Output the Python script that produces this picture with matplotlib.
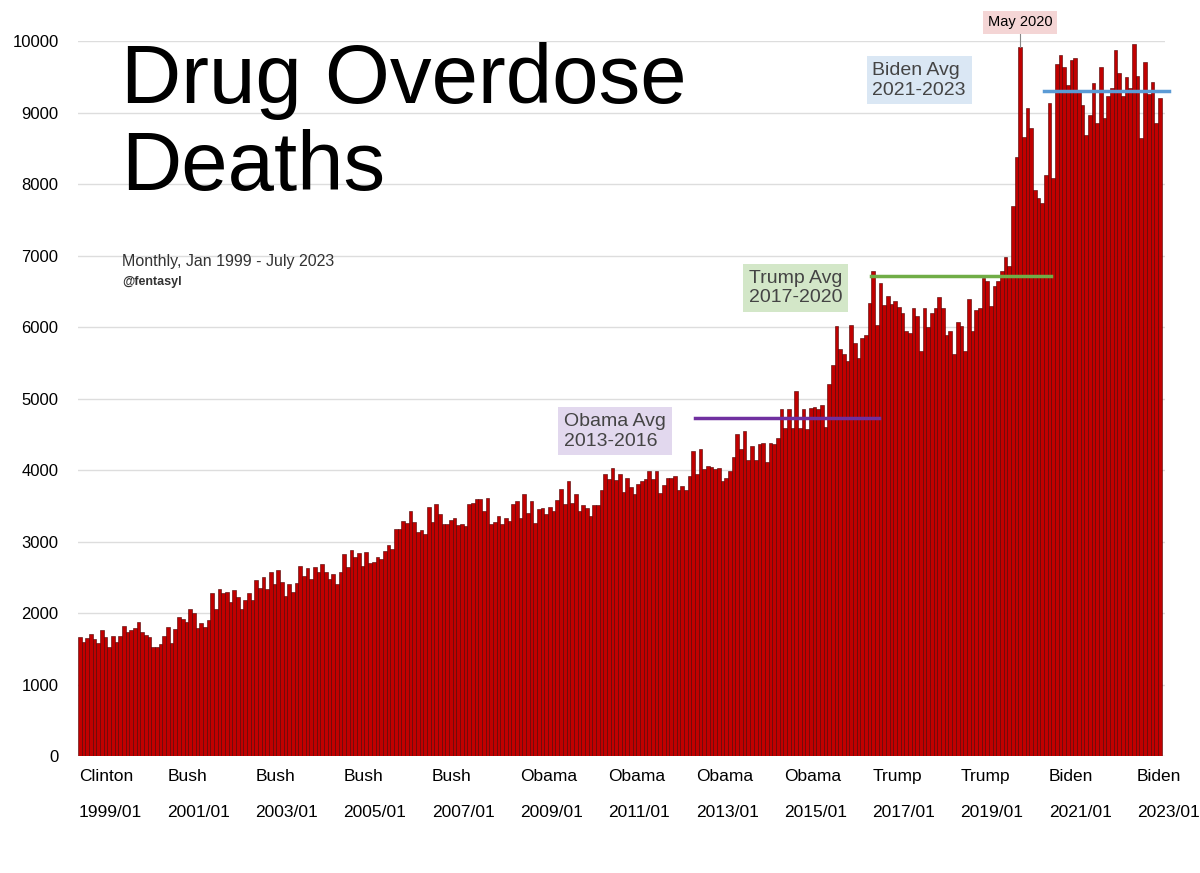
import matplotlib
matplotlib.use("Agg")
import matplotlib.pyplot as plt
import numpy as np

plt.rcParams['font.family'] = ['Liberation Sans', 'DejaVu Sans']

part1 = [1670,1600,1650,1710,1630,1580,1760,1660,1520,1680,1600,1680,
         1820,1740,1760,1790,1880,1730,1690,1670,1530,1520,1570,1680,
         1800,1580,1780,1940,1910,1870,2050,2000,1790,1860,1800,1900,
         2280,2050,2330,2280,2300,2150,2320,2230,2060,2180,2280,2180,
         2460,2350,2500,2340,2580,2410,2600,2430,2240,2410,2300,2420,
         2660,2520,2630,2480,2640,2580,2680,2570,2470,2540,2400,2570,
         2830,2640,2880,2780,2840,2660,2860,2700,2710,2790,2760,2870,
         2950,2890,3170,3170,3290,3260,3430,3270,3140,3160,3100]
part2 = [3480,3280,3520,3380,3250,3240,3300,3330,3230,3240,3220,3530,3540,3590,3600,3430,
         3610,3250,3280,3350,3240,3330,3290,3520,3570,3330,3660,3400,3570,3260,3450,3470,
         3380,3480,3430,3580,3730,3530,3850,3540,3670,3430,3510,3470,3360,3510,3510,3720,
         3950,3870,4030,3860,3940,3690,3890,3760,3670,3810,3840,3870,3990,3880,3990,3680,
         3790,3890,3890,3920,3720,3780,3720,3920,4260,3940,4300,4020,4060,4040,4020,4030,
         3850,3890,3990,4180,4510,4300,4550,4140,4330,4140,4360,4380,4110,4380,4370,4450,
         4850,4590]
part3 = [4850,4590,5100,4590,4860,4580,4870,4880,4850,4910,4600,
         5200,5470,6020,5690,5620,5530,6030,5780,5570,5850,5890,6330,6790,
         6030,6620,6310,6440,6320,6360,6280,6200,5950,5920,6270,6160,5660,6270,6000,
         6190,6270,6420,6270,5890,5940,5620,6070,6020,5660,6390,5950,6240,6270,6690,
         6650,6300,6580,6650,6780,6980,6860,7690,8380,9920,
         8660,9070,8780,7910,7810,7730,8120,9130,8080,9680,9810,9640,9380,9730,9760,9310,
         9100,8680,8960,9410,8850,9630,8920,9230,9340,9880,9550,9230,9490,9340,9960,9510,
         8640,9710,9260,9430,8850,9210]
deaths = part1 + part2 + part3

year_labels = ["1999/01","2001/01","2003/01","2005/01","2007/01","2009/01","2011/01",
               "2013/01","2015/01","2017/01","2019/01","2021/01","2023/01"]
presidents = ["Clinton","Bush","Bush","Bush","Bush","Obama","Obama","Obama","Obama",
              "Trump","Trump","Biden","Biden"]
avg_names = ["Obama Avg\n2013-2016","Trump Avg\n2017-2020","Biden Avg\n2021-2023"]
avg_values = [4730, 6720, 9300]
avg_start = [168, 216, 263]
avg_end = [218, 265, 297]
avg_colors = ["#7030a0", "#70ad47", "#5b9bd5"]
box_colors = ["#e2d8ee", "#d3e7c8", "#dae7f4"]
box_pos = [(0.470, 0.506), (0.624, 0.670), (0.727, 0.908)]

fig = plt.figure(figsize=(12, 8.73), dpi=100)
ax = fig.add_axes([0.065, 0.134, 0.906, 0.819])
x = np.arange(len(deaths))
ax.bar(x, deaths, width=1.0, align='edge', color="#c00000", edgecolor="#4a0000", linewidth=0.4, zorder=2)
ax.set_xlim(0, 296)
ax.set_ylim(0, 10000)
ax.set_yticks(range(0, 10001, 1000))
ax.tick_params(axis='y', length=0, labelsize=12, pad=14)
ax.grid(axis='y', color="#dddddd", linewidth=1, zorder=0)
ax.set_xticks([])
for s in ax.spines.values():
    s.set_visible(False)

for i, (lab, pres) in enumerate(zip(year_labels, presidents)):
    xi = i * 24
    ax.text(xi + 0.3, -180, pres, ha='left', va='top', fontsize=12.5)
    ax.text(xi + 0.3, -690, lab, ha='left', va='top', fontsize=12.5)

for n, v, s0, s1, c, bc, bp in zip(avg_names, avg_values, avg_start, avg_end, avg_colors, box_colors, box_pos):
    ax.plot([s0, s1], [v, v], color=c, linewidth=2.5, zorder=4, clip_on=False)
    fig.text(bp[0], bp[1], n, fontsize=14, color="#444444", ha='left', va='center',
             linespacing=1.2, bbox=dict(boxstyle='square,pad=0.3', fc=bc, ec='none'))

peak = int(np.argmax(deaths[:270]))
ax.plot([peak + 0.5, peak + 0.5], [deaths[peak], 10100], color="#888888", linewidth=0.8, clip_on=False)
ax.text(peak + 0.5, 10260, "May 2020", ha='center', va='center', fontsize=10.5,
        bbox=dict(boxstyle='square,pad=0.3', fc="#f4d5d5", ec='none'))

fig.text(0.101, 0.952, "Drug Overdose\nDeaths", fontsize=60, ha='left', va='top', linespacing=1.15)
fig.text(0.102, 0.700, "Monthly, Jan 1999 - July 2023", fontsize=11.5, ha='left', va='center', color="#333333")
fig.text(0.102, 0.677, "@fentasyl", fontsize=9, ha='left', va='center', fontweight='bold', color="#333333")

fig.savefig("out.png", dpi=100)
